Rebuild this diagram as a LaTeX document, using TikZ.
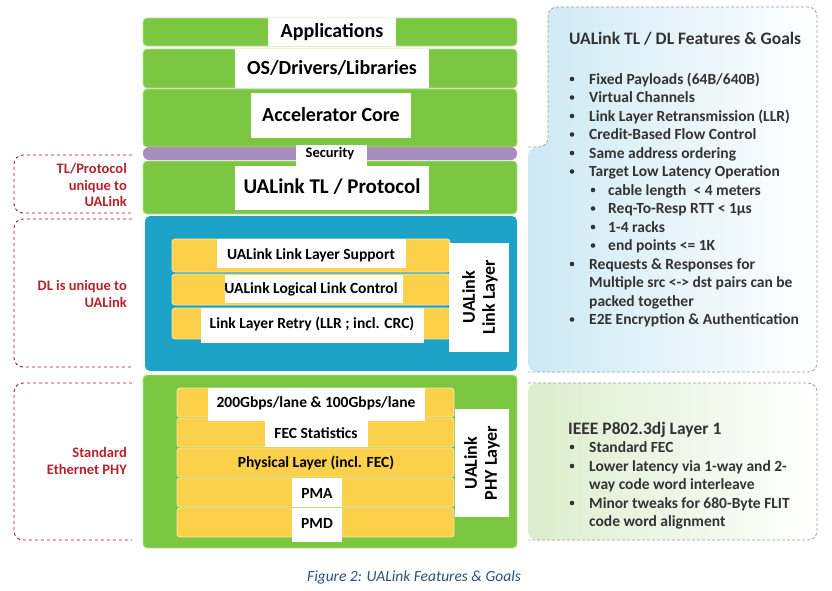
\documentclass[tikz,border=0pt]{standalone}
\usepackage{fontspec}
\setmainfont{Carlito}

\definecolor{uagreen}{HTML}{7CC741}
\definecolor{uablue}{HTML}{1DA3C7}
\definecolor{uayellow}{HTML}{FBD04B}
\definecolor{uapurple}{HTML}{A98DBF}
\definecolor{uared}{HTML}{B5222E}
\definecolor{uatext}{HTML}{333333}
\definecolor{uacap}{HTML}{2F4E7C}
\definecolor{featblue}{HTML}{CDE9F4}
\definecolor{featgreen}{HTML}{DCEECD}

\tikzset{
  layer/.style={fill=uagreen, draw=uagreen!55!white, line width=0.8pt, rounded corners=4pt},
  cutout/.style={fill=white},
  rowbar/.style={fill=uayellow, draw=uayellow!50!white, line width=0.8pt, rounded corners=3pt},
  stacktext/.style={font=\bfseries\fontsize{20}{23}\selectfont, text=black},
  rowtext/.style={font=\bfseries\fontsize{15.5}{18}\selectfont, text=black},
  vlabel/.style={font=\bfseries\fontsize{18}{20}\selectfont, align=center, rotate=90},
  sidebox/.style={draw=uared!85!black, dashed, line width=0.9pt, rounded corners=9pt},
  sidetext/.style={font=\bfseries\fontsize{14.5}{16.5}\selectfont, text=uared, align=right, anchor=east, inner sep=0pt},
  featborder/.style={draw=gray!75, dash pattern=on 3pt off 2pt, line width=0.8pt, rounded corners=9pt},
  feathead/.style={font=\bfseries\fontsize{17.5}{20}\selectfont, text=uatext, anchor=base west, inner sep=0pt},
  featitem/.style={font=\bfseries\fontsize{15.5}{18}\selectfont, text=uatext, anchor=base west, inner sep=0pt},
  bulletdot/.style={fill=uatext},
}

\begin{document}
\begin{tikzpicture}[x=1pt,y=-1pt]
  \useasboundingbox (0,0) rectangle (832,590);

  % upper stack
  \draw[layer] (143,18) rectangle (517,46);
  \fill[cutout] (268,18) rectangle (396,46);
  \node[stacktext] (apps) at (332,32) {Applications};

  \draw[layer] (143,49) rectangle (517,88);
  \fill[cutout] (235,49) rectangle (429,88);
  \node[stacktext] (os) at (332,68) {OS/Drivers/Libraries};

  \draw[layer] (143,89) rectangle (517,147);
  \fill[cutout] (251,93) rectangle (411,138);
  \node[stacktext] (core) at (331,115) {Accelerator Core};

  \fill[uapurple, rounded corners=6pt] (143,147) rectangle (517,160);
  \draw[layer] (143,161) rectangle (517,214);
  \fill[cutout] (296,145) rectangle (367,166);
  \fill[cutout] (235,166) rectangle (429,210);
  \node[rowtext, font=\bfseries\fontsize{14.5}{17}\selectfont] (sec) at (330,154) {Security};
  \node[stacktext, font=\bfseries\fontsize{21}{24}\selectfont] (tl) at (332,187) {UALink TL / Protocol};

  % link layer
  \fill[uablue, rounded corners=5pt] (145,216) rectangle (517,371);
  \draw[rowbar] (172,239) rectangle (450,272);
  \draw[rowbar] (172,274) rectangle (450,305);
  \draw[rowbar] (172,308) rectangle (450,339);
  \fill[cutout] (217,239) rectangle (406,268);
  \fill[cutout] (225,275) rectangle (403,303);
  \fill[cutout] (201,308) rectangle (424,343);
  \fill[cutout] (449,243) rectangle (509,352);
  \node[rowtext] (llsup) at (311,255) {UALink Link Layer Support};
  \node[rowtext] (llc)   at (311,289) {UALink Logical Link Control};
  \node[rowtext] (llr)   at (312,324) {Link Layer Retry (LLR ; incl. CRC)};
  \node[vlabel] (dllabel) at (480,297) {UALink\\Link Layer};

  % phy layer
  \draw[layer] (143,375) rectangle (517,548);
  \foreach \top in {388,418,448,478,508}
    \draw[rowbar] (177,\top) rectangle (454,\top+29);
  \fill[cutout] (208,388) rectangle (425,421);
  \fill[cutout] (265,418) rectangle (368,447);
  \fill[cutout] (292,478) rectangle (342,507);
  \fill[cutout] (292,508) rectangle (342,542);
  \fill[cutout] (455,409) rectangle (509,517);
  \node[rowtext] (lane) at (316,403) {200Gbps/lane \& 100Gbps/lane};
  \node[rowtext] (fec)  at (316,433) {FEC Statistics};
  \node[rowtext] (phys) at (316,463) {Physical Layer (incl. FEC)};
  \node[rowtext] (pma)  at (317,493) {PMA};
  \node[rowtext] (pmd)  at (317,523) {PMD};
  \node[vlabel] (phylabel) at (482,463) {UALink\\PHY Layer};

  % red side notes
  \draw[sidebox] (132,155) -| (14,213) -- (132,213);
  \draw[sidebox] (132,219) -| (14,367) -- (132,367);
  \draw[sidebox] (132,383) -| (14,540) -- (132,540);
  \node[sidetext] (tlnote)  at (127,185) {TL/Protocol\\unique to\\UALink};
  \node[sidetext] (dlnote)  at (127,294) {DL is unique to\\UALink};
  \node[sidetext] (phynote) at (127,461) {Standard\\Ethernet PHY};

  % feature boxes
  \shade[left color=featblue, right color=white, rounded corners=9pt]
    (528,147) -- (548,147) -- (548,7) -- (817,7) -- (817,372) -- (528,372) -- cycle;
  \draw[featborder] (528,147) -- (548,147) -- (548,7) -- (817,7) -- (817,372) -- (528,372);
  \shade[left color=featgreen, right color=white, rounded corners=9pt]
    (528,383) rectangle (817,540);
  \draw[featborder] (528,383) -- (817,383) -- (817,540) -- (528,540);

  \node[feathead] (tlhead) at (569,44) {UALink TL / DL Features \& Goals};
  \foreach \x/\y/\txt [count=\i] in {
      589/79/{Fixed Payloads (64B/640B)},
      589/97.5/{Virtual Channels},
      589/116/{Link Layer Retransmission (LLR)},
      589/134.5/{Credit-Based Flow Control},
      589/153/{Same address ordering},
      589/171.5/{Target Low Latency Operation},
      608/190/{cable length~ < 4 meters},
      608/208.5/{Req-To-Resp RTT < 1µs},
      608/227/{1-4 racks},
      608/245.5/{end points <= 1K},
      589/264/{Requests \& Responses for},
      589/282.5/{Multiple src <-> dst pairs can be},
      589/301/{packed together},
      589/319.5/{E2E Encryption \& Authentication}}
    \node[featitem] (tlitem\i) at (\x,\y+5) {\txt};
  \foreach \bx/\by in {572/79,572/97.5,572/116,572/134.5,572/153,572/171.5,
      593/190,593/208.5,593/227,593/245.5,572/264,572/319.5}
    \fill[bulletdot] (\bx,\by) circle (2.3);

  \node[feathead] (phyhead) at (568,434) {IEEE P802.3dj Layer 1};
  \foreach \y/\txt [count=\i] in {
      447/{Standard FEC},
      466/{Lower latency via 1-way and 2-},
      484.5/{way code word interleave},
      503/{Minor tweaks for 680-Byte FLIT},
      521.5/{code word alignment}}
    \node[featitem] (phyitem\i) at (589,\y+5) {\txt};
  \foreach \by in {447,466,503}
    \fill[bulletdot] (572,\by) circle (2.3);

  \node[font=\itshape\fontsize{15.5}{18}\selectfont, text=uacap] (caption) at (414,577) {Figure 2: UALink Features \& Goals};
\end{tikzpicture}
\end{document}
